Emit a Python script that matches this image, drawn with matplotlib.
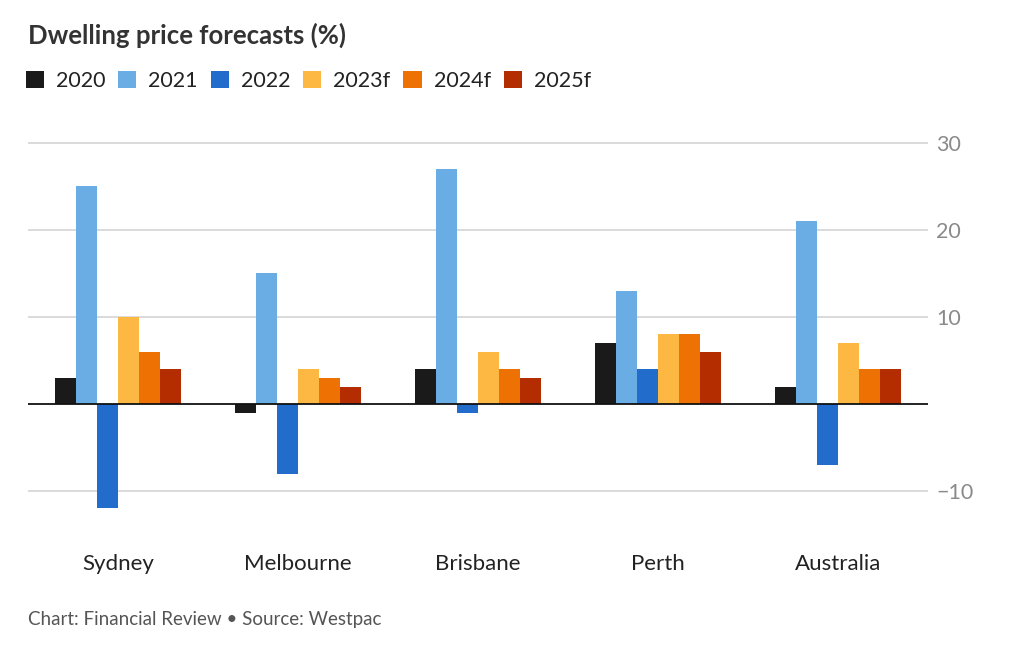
import numpy as np
import matplotlib
matplotlib.use('Agg')
import matplotlib.pyplot as plt
from matplotlib.patches import Patch

plt.rcParams['font.family'] = ['Lato', 'DejaVu Sans']

cities = ['Sydney', 'Melbourne', 'Brisbane', 'Perth', 'Australia']
years = ['2020', '2021', '2022', '2023f', '2024f', '2025f']
colors = ['#1a1a1a', '#6aade4', '#226ccc', '#fcb843', '#ee7203', '#b32d00']

v2020 = [3, -1, 4, 7, 2]
v2021 = [25, 15, 27, 13, 21]
v2022 = [-12, -8, -1, 4, -7]
v2023 = [10, 4, 6, 8, 7]
v2024 = [6, 3, 4, 8, 4]
v2025 = [4, 2, 3, 6, 4]
series = [v2020, v2021, v2022, v2023, v2024, v2025]

yticks = [-10, 10, 20, 30]

fig = plt.figure(figsize=(10.24, 6.45), dpi=100)
ax = fig.add_axes([0.0273, 0.1713, 0.879, 0.6205])

x = np.arange(len(cities))
w = 0.117
for i, (vals, c) in enumerate(zip(series, colors)):
    ax.bar(x + (i - 2.5) * w, vals, width=w, color=c, zorder=3)

ax.axhline(0, color='#111111', lw=1.3, zorder=4)
ax.set_xlim(-0.5, len(cities) - 0.5)
ax.set_ylim(-15, 31)
ax.set_yticks(yticks)
ax.set_yticklabels(['\u221210', '10', '20', '30'])
ax.yaxis.tick_right()
ax.grid(axis='y', color='#d4d4d4', lw=1.2, zorder=0)
ax.tick_params(axis='y', length=0, pad=6, labelsize=15.5, labelcolor='#8a8a8a')
ax.set_xticks(x)
ax.set_xticklabels(cities)
ax.tick_params(axis='x', length=0, pad=14, labelsize=16, labelcolor='#222222')
for s in ax.spines.values():
    s.set_visible(False)

fig.text(0.027, 0.945, 'Dwelling price forecasts (%)', fontsize=18.5, fontweight='bold',
         color='#333333', va='center')

handles = [Patch(facecolor=c, edgecolor='none') for c in colors]
fig.legend(handles, years, loc='center left', bbox_to_anchor=(0.006, 0.874), ncol=6,
           frameon=False, fontsize=15.5, handlelength=0.85, handleheight=0.85,
           handletextpad=0.55, columnspacing=0.6, labelcolor='#222222')

fig.text(0.027, 0.039, 'Chart: Financial Review \u2022 Source: Westpac', fontsize=13.5,
         color='#555555', va='center')

fig.savefig('out.png', dpi=100)
